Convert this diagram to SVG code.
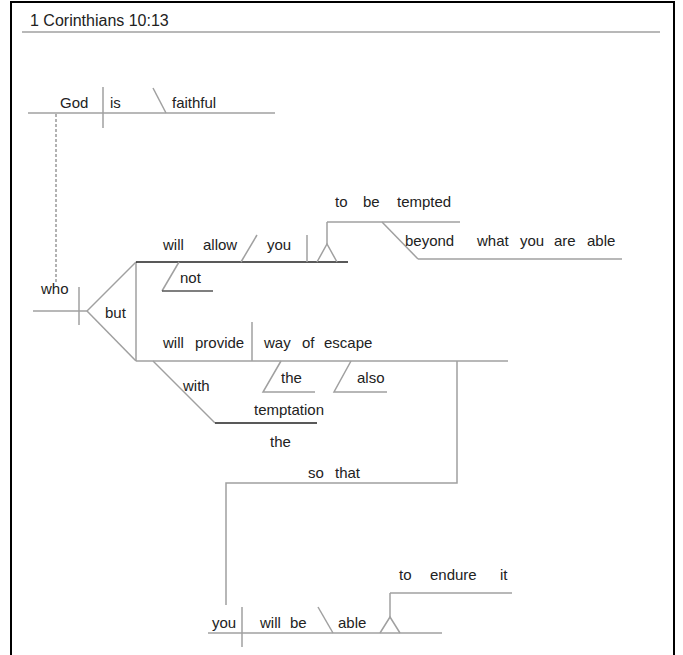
<svg xmlns="http://www.w3.org/2000/svg" width="683" height="655" viewBox="0 0 683 655">
<style>
text{font-family:"Liberation Sans",Arial,sans-serif;font-size:15px;fill:#222}
.g{stroke:#a0a0a0;stroke-width:1.5;fill:none}
.k{stroke:#222;stroke-width:1.5;fill:none}
</style>
<rect x="0" y="0" width="683" height="655" fill="#fff"/>
<rect x="11" y="2" width="663" height="670" fill="none" stroke="#000" stroke-width="2"/>
<g id="title">
<text x="30" y="26" style="font-size:16px">1 Corinthians 10:13</text>
<line class="g" x1="22" y1="32" x2="660" y2="32"/>
</g>
<g id="connectors">
<line x1="56" y1="114" x2="56" y2="283" stroke="#999" stroke-width="1.5" stroke-dasharray="3,2"/>
</g>
<g id="main-clause">
<line class="g" x1="28" y1="113" x2="275" y2="113"/>
<line class="g" x1="103" y1="87" x2="103" y2="128"/>
<line class="g" x1="153" y1="88" x2="166" y2="113"/>
<text x="60" y="108">God</text>
<text x="110" y="108">is</text>
<text x="172" y="108">faithful</text>
</g>
<g id="who-clause">
<line class="g" x1="33" y1="311" x2="87" y2="311"/>
<line class="g" x1="79" y1="287" x2="79" y2="325"/>
<line class="g" x1="87" y1="311" x2="136" y2="262"/>
<line class="g" x1="87" y1="311" x2="136" y2="361"/>
<line class="g" x1="136" y1="262" x2="136" y2="361"/>
<text x="41" y="294">who</text>
<text x="105" y="318">but</text>
</g>
<g id="allow-clause">
<line class="k" x1="136" y1="262" x2="348" y2="262"/>
<line class="g" x1="241" y1="262" x2="257" y2="235"/>
<line class="g" x1="307" y1="235" x2="307" y2="262"/>
<polyline class="g" points="317,262 327,244 337,262"/>
<line class="g" x1="327" y1="244" x2="327" y2="222"/>
<line class="g" x1="327" y1="222" x2="460" y2="222"/>
<line class="g" x1="382" y1="222" x2="418" y2="259"/>
<line class="g" x1="418" y1="259" x2="622" y2="259"/>
<line class="g" x1="179" y1="262" x2="162" y2="291"/>
<line class="k" x1="162" y1="291" x2="213" y2="291" style="stroke:#555"/>
<text x="163" y="250">will</text>
<text x="203" y="250">allow</text>
<text x="267" y="250">you</text>
<text x="180" y="283">not</text>
<text x="335" y="207">to</text>
<text x="363" y="207">be</text>
<text x="397" y="207">tempted</text>
<text x="405" y="246">beyond</text>
<text x="477" y="246">what</text>
<text x="520" y="246">you</text>
<text x="554" y="246">are</text>
<text x="587" y="246">able</text>
</g>
<g id="provide-clause">
<line class="g" x1="136" y1="361" x2="508" y2="361"/>
<line class="g" x1="252" y1="322" x2="252" y2="361"/>
<polyline class="g" points="281,361 263,392 315,392"/>
<polyline class="g" points="351,361 334,392 387,392"/>
<line class="g" x1="153" y1="361" x2="215" y2="423"/>
<line class="k" x1="215" y1="423" x2="317" y2="423"/>
<text x="163" y="348">will</text>
<text x="195" y="348">provide</text>
<text x="264" y="348">way</text>
<text x="302" y="348">of</text>
<text x="324" y="348">escape</text>
<text x="281" y="383">the</text>
<text x="357" y="383">also</text>
<text x="183" y="391">with</text>
<text x="254" y="415">temptation</text>
<text x="270" y="447">the</text>
</g>
<g id="so-that">
<polyline class="g" points="457,361 457,483 226,483 226,605"/>
<text x="308" y="478">so</text>
<text x="335" y="478">that</text>
</g>
<g id="able-clause">
<line class="g" x1="208" y1="633" x2="442" y2="633"/>
<line class="g" x1="242" y1="607" x2="242" y2="647"/>
<line class="g" x1="318" y1="607" x2="333" y2="633"/>
<polyline class="g" points="380,633 390,617 400,633"/>
<line class="g" x1="390" y1="617" x2="390" y2="593"/>
<line class="g" x1="390" y1="593" x2="512" y2="593"/>
<text x="212" y="628">you</text>
<text x="260" y="628">will</text>
<text x="290" y="628">be</text>
<text x="338" y="628">able</text>
<text x="399" y="580">to</text>
<text x="430" y="580">endure</text>
<text x="500" y="580">it</text>
</g>
</svg>
